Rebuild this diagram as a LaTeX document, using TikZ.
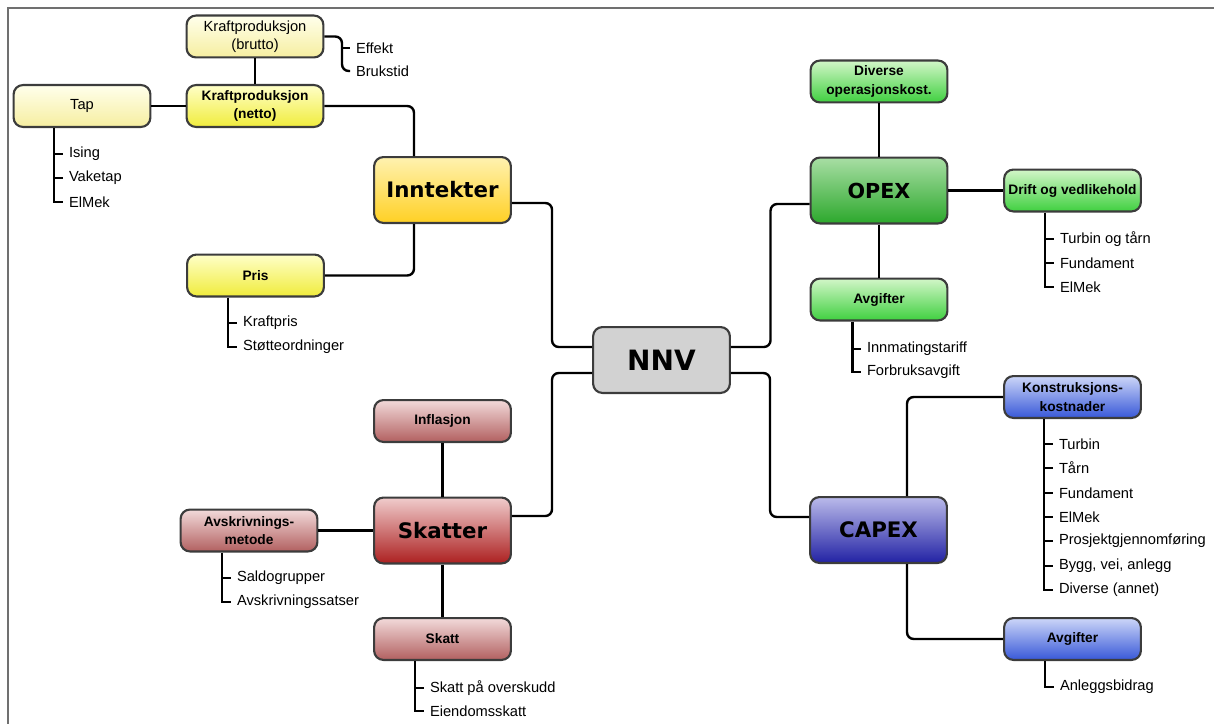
\documentclass[tikz,border=0pt]{standalone}
\usepackage{fontspec}
\setsansfont{Liberation Sans}
\newfontfamily\titlefont{DejaVu Sans}
\usetikzlibrary{calc}

\definecolor{framegray}{RGB}{112,112,112}
\definecolor{boxedge}{RGB}{60,60,60}
\definecolor{paletop}{RGB}{255,255,236}
\definecolor{palebot}{RGB}{246,238,160}
\definecolor{ylwtop}{RGB}{255,255,200}
\definecolor{ylwbot}{RGB}{240,236,60}
\definecolor{inntop}{RGB}{255,242,176}
\definecolor{innbot}{RGB}{255,208,36}
\definecolor{nnvfill}{RGB}{210,210,210}
\definecolor{opextop}{RGB}{168,222,164}
\definecolor{opexbot}{RGB}{44,168,44}
\definecolor{grntop}{RGB}{210,246,200}
\definecolor{grnbot}{RGB}{64,208,64}
\definecolor{capextop}{RGB}{186,186,234}
\definecolor{capexbot}{RGB}{34,34,164}
\definecolor{blutop}{RGB}{204,214,248}
\definecolor{blubot}{RGB}{56,88,216}
\definecolor{skattertop}{RGB}{240,204,204}
\definecolor{skatterbot}{RGB}{172,32,32}
\definecolor{redtop}{RGB}{242,218,218}
\definecolor{redbot}{RGB}{178,96,96}

\tikzset{every picture/.style={line width=0.75pt}}
\tikzset{
  box/.style={draw=boxedge, line width=1.6pt, rounded corners=7pt, minimum width=102.6pt, minimum height=31.4pt, align=center, inner sep=1pt, font=\sffamily\fontsize{11}{13.5}\selectfont},
  bigbox/.style={box, minimum height=49.4pt, font=\titlefont\bfseries\fontsize{16}{19}\selectfont},
  boldlbl/.style={font=\sffamily\bfseries\fontsize{10.3}{14}\selectfont},
  pale/.style={top color=paletop, bottom color=palebot},
  ylw/.style={top color=ylwtop, bottom color=ylwbot},
  inntekt/.style={top color=inntop, bottom color=innbot},
  opexfill/.style={top color=opextop, bottom color=opexbot},
  grn/.style={top color=grntop, bottom color=grnbot},
  capexfill/.style={top color=capextop, bottom color=capexbot},
  blu/.style={top color=blutop, bottom color=blubot},
  skatterfill/.style={top color=skattertop, bottom color=skatterbot},
  rd/.style={top color=redtop, bottom color=redbot},
  leaf/.style={anchor=west, inner sep=0pt, outer sep=4.5pt, font=\sffamily\fontsize{11}{13}\selectfont},
  link/.style={line width=1.8pt, rounded corners=5pt},
  leafline/.style={line width=1.8pt}
}

\begin{document}
\begin{tikzpicture}[x=0.75pt,y=0.75pt,yscale=-1,xscale=1]
	\useasboundingbox (0,0) rectangle (1214,724);
	%Frame
	\draw [color=framegray, line width=1.2pt] (1214,8) -- (8,8) -- (8,724);

	%Inntekter branch
	\node [box, pale] (brutto) at (255,36.5) {Kraftproduksjon\\(brutto)};
	\node [box, ylw, boldlbl] (netto) at (255,106) {Kraftproduksjon\\(netto)};
	\node [box, pale] (tap) at (82,106) {Tap};
	\node [bigbox, inntekt] (inn) at (442.5,190) {Inntekter};
	\node [box, ylw, boldlbl] (pris) at (255.5,275.5) {Pris};

	%Centre
	\node [bigbox, fill=nnvfill, font=\titlefont\bfseries\fontsize{21}{24}\selectfont] (nnv) at (661.5,360) {NNV};

	%OPEX branch
	\node [bigbox, opexfill, font=\titlefont\bfseries\fontsize{15.5}{19}\selectfont] (opex) at (879,190.5) {OPEX};
	\node [box, grn, boldlbl] (divkost) at (879,81.5) {Diverse\\operasjonskost.};
	\node [box, grn, boldlbl] (drift) at (1072.5,190.5) {Drift og vedlikehold};
	\node [box, grn, boldlbl] (oavg) at (879,299.5) {Avgifter};

	%CAPEX branch
	\node [bigbox, capexfill] (capex) at (878.5,530) {CAPEX};
	\node [box, blu, boldlbl] (konst) at (1072.5,397) {Konstruksjons-\\kostnader};
	\node [box, blu, boldlbl] (cavg) at (1072.5,639) {Avgifter};

	%Skatter branch
	\node [bigbox, skatterfill] (skatter) at (442.5,530.5) {Skatter};
	\node [box, rd, boldlbl] (infl) at (442.5,421) {Inflasjon};
	\node [box, rd, boldlbl] (avskr) at (249,530.5) {Avskrivnings-\\metode};
	\node [box, rd, boldlbl] (skatt) at (442.5,639) {Skatt};

	% Text Nodes (lists)
	\node [leaf] (effekt) at (350,48) {Effekt};
	\node [leaf] (brukstid) at (350,71) {Brukstid};
	\node [leaf] (ising) at (63,154) {Ising};
	\node [leaf] (vaketap) at (63,178) {Vaketap};
	\node [leaf] (tapelmek) at (63,202) {ElMek};
	\node [leaf] (kraftpris) at (237,323) {Kraftpris};
	\node [leaf] (stotte) at (237,347) {Støtteordninger};
	\node [leaf] (turbtarn) at (1054,239) {Turbin og tårn};
	\node [leaf] (dfund) at (1054,263) {Fundament};
	\node [leaf] (delmek) at (1054,287) {ElMek};
	\node [leaf] (innmat) at (861,349) {Innmatingstariff};
	\node [leaf] (forbruk) at (861,372) {Forbruksavgift};
	\node [leaf] (kturb) at (1053,444) {Turbin};
	\node [leaf] (ktarn) at (1053,468) {Tårn};
	\node [leaf] (kfund) at (1053,493) {Fundament};
	\node [leaf] (kelmek) at (1053,517) {ElMek};
	\node [leaf] (kprosj) at (1053,541) {Prosjektgjennomføring};
	\node [leaf] (kbygg) at (1053,566) {Bygg, vei, anlegg};
	\node [leaf] (kdiv) at (1053,590) {Diverse (annet)};
	\node [leaf] (anlegg) at (1054,687) {Anleggsbidrag};
	\node [leaf] (saldo) at (231,578) {Saldogrupper};
	\node [leaf] (satser) at (231,602) {Avskrivningssatser};
	\node [leaf] (overskudd) at (424,688) {Skatt på overskudd};
	\node [leaf] (eiendom) at (424,711) {Eiendomsskatt};

	%Connectors
	\draw [link] (brutto.south) -- (netto.north);
	\draw [link] (tap.east) -- (netto.west);
	\draw [link] (netto.east) -| ($(inn.north)+(-28.5,0)$);
	\draw [link] (pris.east) -| ($(inn.south)+(-28.5,0)$);
	\draw [link] ($(inn.east)+(0,13)$) -| ($(nnv.west)+(-40,-13)$) -- ($(nnv.west)+(0,-13)$);
	\draw [link] ($(skatter.east)+(0,-14.5)$) -| ($(nnv.west)+(-40,13)$) -- ($(nnv.west)+(0,13)$);
	\draw [link] ($(nnv.east)+(0,-13)$) -| ($(opex.west)+(-39,13.5)$) -- ($(opex.west)+(0,13.5)$);
	\draw [link] ($(nnv.east)+(0,13)$) -| ($(capex.west)+(-39,-13)$) -- ($(capex.west)+(0,-13)$);
	\draw [link] (divkost.south) -- (opex.north);
	\draw [link] (opex.east) -- (drift.west);
	\draw [link] (opex.south) -- (oavg.north);
	\draw [link] ($(capex.north)+(28.5,0)$) |- (konst.west);
	\draw [link] ($(capex.south)+(28.5,0)$) |- (cavg.west);
	\draw [link] (infl.south) -- (skatter.north);
	\draw [link] (avskr.east) -- (skatter.west);
	\draw [link] (skatter.south) -- (skatt.north);

	%List spines
	\coordinate (bruttospine) at (342,36.5);
	\draw [link] (brutto.east) -| (bruttospine |- brukstid.west) -- (brukstid.west);
	\draw [leafline] (effekt.west -| bruttospine) -- (effekt.west);
	\coordinate (tapspine) at ($(tap.south)+(-28,0)$);
	\draw [leafline] (tapspine) |- (tapelmek.west);
	\foreach \n in {ising,vaketap} \draw [leafline] (\n.west -| tapspine) -- (\n.west);
	\coordinate (prisspine) at ($(pris.south)+(-27.5,0)$);
	\draw [leafline] (prisspine) |- (stotte.west);
	\draw [leafline] (kraftpris.west -| prisspine) -- (kraftpris.west);
	\coordinate (driftspine) at ($(drift.south)+(-27.5,0)$);
	\draw [leafline] (driftspine) |- (delmek.west);
	\foreach \n in {turbtarn,dfund} \draw [leafline] (\n.west -| driftspine) -- (\n.west);
	\coordinate (oavgspine) at ($(oavg.south)+(-26.5,0)$);
	\draw [leafline] (oavgspine) |- (forbruk.west);
	\draw [leafline] (innmat.west -| oavgspine) -- (innmat.west);
	\coordinate (konstspine) at ($(konst.south)+(-28.5,0)$);
	\draw [leafline] (konstspine) |- (kdiv.west);
	\foreach \n in {kturb,ktarn,kfund,kelmek,kprosj,kbygg} \draw [leafline] (\n.west -| konstspine) -- (\n.west);
	\coordinate (cavgspine) at ($(cavg.south)+(-27.5,0)$);
	\draw [leafline] (cavgspine) |- (anlegg.west);
	\coordinate (avskrspine) at ($(avskr.south)+(-27,0)$);
	\draw [leafline] (avskrspine) |- (satser.west);
	\draw [leafline] (saldo.west -| avskrspine) -- (saldo.west);
	\coordinate (skattspine) at ($(skatt.south)+(-27.5,0)$);
	\draw [leafline] (skattspine) |- (eiendom.west);
	\draw [leafline] (overskudd.west -| skattspine) -- (overskudd.west);

\end{tikzpicture}
\end{document}
